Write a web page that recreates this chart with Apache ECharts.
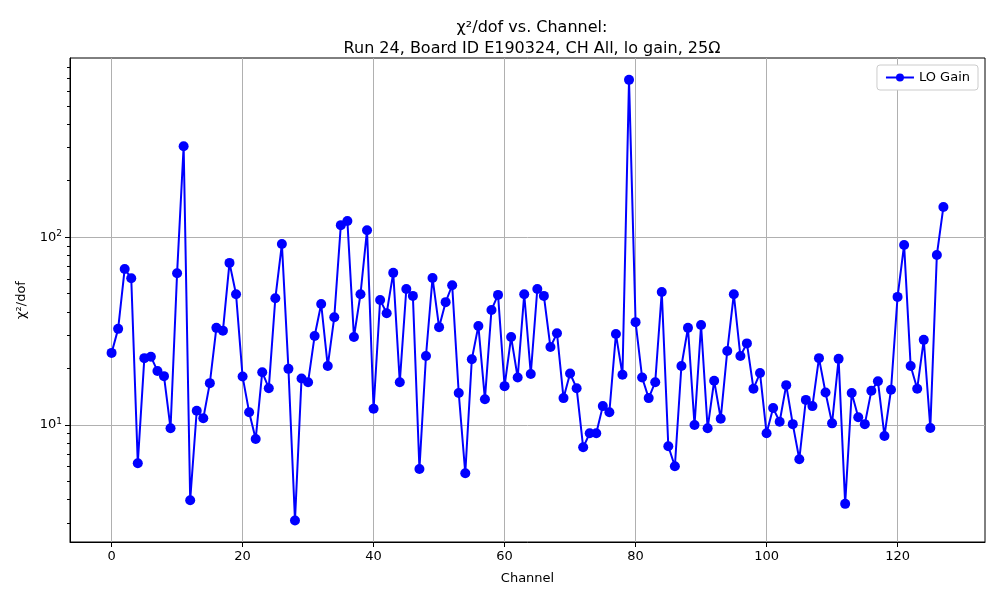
<!DOCTYPE html>
<html>
<head>
<meta charset="utf-8">
<script src="https://cdn.jsdelivr.net/npm/echarts@6/dist/echarts.min.js"></script>
<style>html,body{margin:0;padding:0;background:#fff}#c{width:1000px;height:600px}</style>
</head>
<body>
<div id="c"></div>
<script>
const chi2dof = [24.2,32.5,67.8,60.4,6.25,22.7,23.1,19.4,18.2,9.6,
64.3,305,3.97,11.9,10.85,16.7,32.9,31.8,73,49.7,
18.1,11.7,8.42,19.1,15.7,47.3,92,19.9,3.1,17.7,
16.9,29.8,44.1,20.6,37.5,116,122,29.4,49.7,109,
12.2,46.3,39.4,64.6,16.9,53,48.7,5.83,23.3,60.7,
33.2,45.1,55.5,14.8,5.53,22.4,33.7,13.7,41,49.3,
16.1,29.4,17.9,49.7,18.7,53,48.7,26,30.8,13.9,
18.8,15.7,7.6,9.03,9.03,12.6,11.7,30.5,18.5,689,
35.3,17.9,13.9,16.9,51.1,7.7,6.03,20.6,32.9,10,
34.1,9.6,17.2,10.8,24.8,49.7,23.3,27.2,15.6,18.9,
9.03,12.3,10.4,16.3,10.1,6.57,13.6,12.6,22.7,14.9,
10.2,22.5,3.8,14.8,11.0,10.1,15.2,17.1,8.74,15.4,
48.1,91,20.6,15.6,28.4,9.64,80.5,145];
const xTicks = [0,20,40,60,80,100,120];
const yMajorTicks = [10,100];
const yMinorTicks = [3,4,5,6,7,8,9,20,30,40,50,60,70,80,90,200,300,400,500,600,700,800];
const seriesName = 'LO Gain';

const font = 'DejaVu Sans';
const chart = echarts.init(document.getElementById('c'));
chart.setOption({
  animation:false,
  backgroundColor:'#fff',
  textStyle:{fontFamily:font},
  title:{
    text:'χ²/dof vs. Channel:\nRun 24, Board ID E190324, CH All, lo gain, 25Ω',
    left:527, textAlign:'center', top:12,
    textStyle:{fontFamily:font,fontSize:16,fontWeight:'normal',color:'#000',lineHeight:21}
  },
  legend:{
    right:22, top:65,
    data:[seriesName],
    itemWidth:28, itemHeight:10, itemGap:8,
    padding:[6,8,6,8],
    borderColor:'#cccccc', borderWidth:1, borderRadius:3, backgroundColor:'#fff',
    textStyle:{fontFamily:font,fontSize:13,color:'#000'}
  },
  grid:{left:70,right:15,top:58,bottom:58,containLabel:false,show:true,borderColor:'#000',borderWidth:1,backgroundColor:'transparent'},
  xAxis:{
    type:'value', min:-6.35, max:133.35,
    name:'Channel', nameLocation:'middle', nameGap:30,
    nameTextStyle:{fontFamily:font,fontSize:13,color:'#000'},
    axisLine:{onZero:false,lineStyle:{color:'#000',width:1}},
    axisTick:{customValues:xTicks,length:5,lineStyle:{color:'#000'}},
    axisLabel:{customValues:xTicks,color:'#000',fontSize:13,margin:8,fontFamily:font},
    splitLine:{show:true,lineStyle:{color:'#b0b0b0',width:1}}
  },
  yAxis:[{
    type:'log', logBase:10, min:2.38, max:901,
    name:'χ²/dof', nameLocation:'middle', nameGap:42, nameRotate:90,
    nameTextStyle:{fontFamily:font,fontSize:13,color:'#000'},
    axisLine:{show:true,onZero:false,lineStyle:{color:'#000',width:1}},
    axisTick:{customValues:yMajorTicks,interval:0,length:5,lineStyle:{color:'#000'}},
    axisLabel:{customValues:yMajorTicks,interval:0,color:'#000',fontSize:13,margin:8,fontFamily:font,
      formatter:function(v){const e=Math.round(Math.log10(v));return '{b|10}{s|'+e+'}';},
      rich:{b:{fontSize:13,fontFamily:font,color:'#000'},s:{fontSize:9,fontFamily:font,color:'#000',padding:[0,0,7,0]}}},
    splitLine:{show:true,lineStyle:{color:'#b0b0b0',width:1}}
  },{
    type:'log', logBase:10, min:2.38, max:901, position:'left',
    axisLine:{show:false,onZero:false},
    axisTick:{show:true,customValues:yMinorTicks,interval:0,length:3,lineStyle:{color:'#000'}},
    axisLabel:{show:false,customValues:yMinorTicks,interval:0},
    splitLine:{show:false}
  }],
  series:[{
    name:seriesName, type:'line', yAxisIndex:0,
    data:chi2dof.map(function(v,i){return [i,v];}),
    symbol:'circle', symbolSize:10, showSymbol:true,
    lineStyle:{color:'#0000ff',width:2},
    itemStyle:{color:'#0000ff'},
    z:5
  }]
});
</script>
</body>
</html>
